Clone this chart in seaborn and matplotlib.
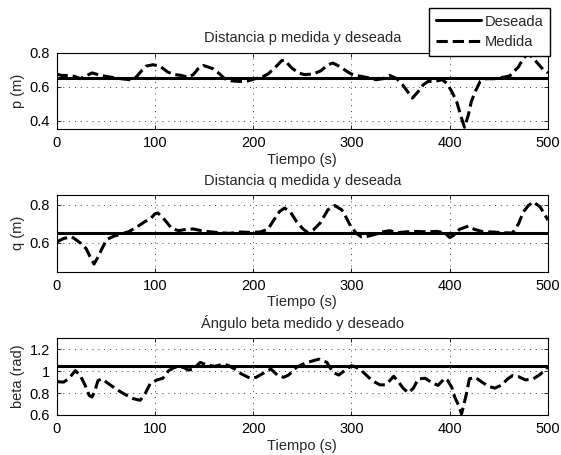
import matplotlib
matplotlib.use("Agg")
import matplotlib.pyplot as plt
import seaborn as sns

# Time axis shared by the reference (desired) values
t_ref = [0, 500]
p_des = [0.65, 0.65]
q_des = [0.65, 0.65]
beta_des = [1.047, 1.047]

# Measured distance p
t_p = [0, 5, 12, 18, 24, 36, 45, 56, 65, 74, 80, 86, 91, 98, 105, 113, 120, 127,
       134, 139, 144, 149, 159, 166, 171, 178, 186, 195, 202, 208, 215, 222, 229,
       232, 239, 246, 252, 261, 269, 276, 281, 288, 295, 300, 307, 315, 325, 332,
       339, 346, 352, 357, 362, 368, 373, 378, 385, 392, 397, 402, 407, 412, 415,
       419, 422, 426, 431, 437, 446, 454, 461, 470, 475, 480, 488, 495, 500]
p_med = [0.673, 0.665, 0.665, 0.66, 0.646, 0.68, 0.665, 0.654, 0.646, 0.64, 0.65,
         0.69, 0.72, 0.728, 0.72, 0.685, 0.67, 0.665, 0.654, 0.67, 0.705, 0.724,
         0.705, 0.673, 0.646, 0.633, 0.63, 0.633, 0.646, 0.654, 0.673, 0.71, 0.752,
         0.755, 0.71, 0.68, 0.67, 0.673, 0.693, 0.728, 0.738, 0.718, 0.69, 0.673,
         0.663, 0.654, 0.64, 0.646, 0.665, 0.646, 0.61, 0.571, 0.532, 0.571, 0.61,
         0.63, 0.63, 0.64, 0.62, 0.571, 0.512, 0.414, 0.36, 0.434, 0.512, 0.571,
         0.63, 0.646, 0.646, 0.654, 0.662, 0.716, 0.766, 0.795, 0.746, 0.70, 0.68]

# Measured distance q
t_q = [0, 7, 15, 18, 25, 30, 35, 38, 42, 46, 51, 58, 64, 73, 81, 90, 95, 100, 103,
       110, 117, 124, 132, 139, 147, 156, 166, 176, 187, 196, 207, 215, 220, 227,
       232, 238, 244, 251, 256, 261, 268, 276, 283, 290, 295, 299, 305, 310, 317,
       325, 332, 339, 346, 356, 366, 376, 387, 395, 400, 404, 410, 419, 425, 434,
       444, 454, 464, 470, 475, 480, 485, 492, 500]
q_med = [0.605, 0.623, 0.632, 0.623, 0.596, 0.57, 0.517, 0.49, 0.526, 0.57, 0.618,
         0.635, 0.644, 0.658, 0.681, 0.712, 0.724, 0.752, 0.756, 0.72, 0.676, 0.664,
         0.671, 0.673, 0.664, 0.658, 0.653, 0.65, 0.657, 0.655, 0.657, 0.671, 0.712,
         0.765, 0.782, 0.76, 0.712, 0.671, 0.653, 0.667, 0.703, 0.773, 0.795, 0.773,
         0.729, 0.688, 0.65, 0.632, 0.635, 0.646, 0.658, 0.664, 0.653, 0.658, 0.66,
         0.658, 0.66, 0.653, 0.628, 0.64, 0.671, 0.688, 0.671, 0.658, 0.657, 0.653,
         0.652, 0.70, 0.762, 0.795, 0.814, 0.788, 0.719]

# Measured angle beta
t_b = [0, 7, 12, 19, 24, 29, 33, 36, 39, 42, 46, 53, 61, 70, 78, 85, 90, 95, 102,
       108, 114, 120, 129, 134, 139, 146, 153, 161, 170, 175, 181, 188, 197, 203,
       212, 218, 225, 231, 236, 244, 253, 261, 267, 275, 281, 287, 293, 300, 305,
       312, 321, 329, 334, 339, 343, 348, 353, 358, 363, 368, 375, 381, 388, 395,
       398, 402, 405, 409, 412, 415, 417, 420, 426, 432, 439, 446, 453, 459, 464,
       470, 477, 485, 492, 500]
b_med = [0.905, 0.90, 0.93, 1.005, 0.96, 0.87, 0.78, 0.764, 0.824, 0.914, 0.93,
         0.884, 0.833, 0.785, 0.749, 0.734, 0.794, 0.884, 0.92, 0.935, 1.005, 1.035,
         1.035, 1.01, 1.02, 1.08, 1.056, 1.044, 1.065, 1.05, 1.02, 0.975, 0.935,
         0.944, 0.99, 1.02, 0.96, 0.944, 0.965, 1.035, 1.074, 1.095, 1.11, 1.08,
         0.99, 0.965, 1.005, 1.05, 1.035, 0.99, 0.914, 0.875, 0.875, 0.914, 0.953,
         0.90, 0.84, 0.803, 0.845, 0.93, 0.935, 0.90, 0.87, 0.935, 0.914, 0.854,
         0.764, 0.689, 0.61, 0.72, 0.794, 0.93, 0.944, 0.905, 0.863, 0.845, 0.875,
         0.93, 0.96, 0.95, 0.92, 0.93, 0.97, 1.04]

x_ticks = [0, 100, 200, 300, 400, 500]
panels = [
    dict(t=t_p, med=p_med, des=p_des, title="Distancia p medida y deseada",
         ylabel="p (m)", ylim=(0.35, 0.8), yticks=[0.4, 0.6, 0.8],
         yticklabels=["0.4", "0.6", "0.8"]),
    dict(t=t_q, med=q_med, des=q_des, title="Distancia q medida y deseada",
         ylabel="q (m)", ylim=(0.45, 0.85), yticks=[0.6, 0.8],
         yticklabels=["0.6", "0.8"]),
    dict(t=t_b, med=b_med, des=beta_des, title="Ángulo beta medido y deseado",
         ylabel="beta (rad)", ylim=(0.6, 1.3), yticks=[0.6, 0.8, 1.0, 1.2],
         yticklabels=["0.6", "0.8", "1", "1.2"]),
]

sns.set_style("ticks")
plt.rcParams["font.family"] = ["Liberation Sans", "DejaVu Sans"]
plt.rcParams["font.size"] = 10.5

W, H = 561, 455
fig = plt.figure(figsize=(W / 100, H / 100), dpi=100)
ax_left, ax_right = 56.7, 548.0
ax_rows = [(52.5, 129.0), (195.0, 271.7), (338.3, 415.0)]

for (top, bottom), spec in zip(ax_rows, panels):
    ax = fig.add_axes([ax_left / W, 1 - bottom / H,
                       (ax_right - ax_left) / W, (bottom - top) / H])
    sns.lineplot(x=t_ref, y=spec["des"], ax=ax, color="black", linewidth=2.2,
                 label="Deseada", legend=False)
    sns.lineplot(x=spec["t"], y=spec["med"], ax=ax, color="black", linewidth=2.2,
                 linestyle="--", label="Medida", legend=False, errorbar=None)
    ax.set_xlim(0, 500)
    ax.set_ylim(*spec["ylim"])
    ax.set_xticks(x_ticks)
    ax.set_xticklabels([str(v) for v in x_ticks])
    ax.set_yticks(spec["yticks"])
    ax.set_yticklabels(spec["yticklabels"])
    ax.set_axisbelow(True)
    ax.grid(True, linestyle=(0, (1, 5)), color="0.25", linewidth=0.7)
    for s in ax.spines.values():
        s.set_visible(True)
        s.set_color("black")
        s.set_linewidth(0.8)
    ax.tick_params(direction="in", length=3, width=0.6, top=True, right=True,
                   pad=5, labelsize=10.5, colors="black")
    ax.set_title(spec["title"], fontsize=10.5, pad=7.5)
    ax.set_xlabel("Tiempo (s)", fontsize=10.5, labelpad=2)
    ax.set_ylabel(spec["ylabel"], fontsize=10.5, labelpad=3)
    if top == ax_rows[0][0]:
        handles, labels = ax.get_legend_handles_labels()

fig.legend(handles, labels, loc="upper right",
           bbox_to_anchor=(550 / W, 1 - 8 / H), borderaxespad=0,
           fancybox=False, edgecolor="black", framealpha=1, fontsize=10.5,
           handlelength=3.1, handletextpad=0.25, borderpad=0.45,
           labelspacing=0.45)

fig.savefig("out.png", dpi=100)
